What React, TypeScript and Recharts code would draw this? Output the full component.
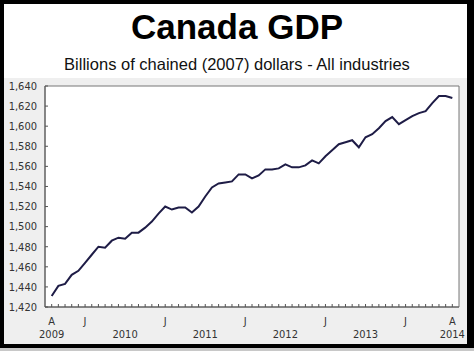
import React from 'react';
import { LineChart, Line, XAxis, YAxis, ReferenceArea } from 'recharts';

// Canada GDP, billions of chained (2007) dollars, monthly Aug 2009 – Aug 2014
const gdp = [
  1431, 1441, 1443, 1452, 1456, 1464, 1472, 1480, 1479, 1486, 1489, 1488,
  1494, 1494, 1499, 1505, 1513, 1520, 1517, 1519, 1519, 1514, 1520, 1530,
  1539, 1543, 1544, 1545, 1552, 1552, 1548, 1551, 1557, 1557, 1558, 1562,
  1559, 1559, 1561, 1566, 1563, 1570, 1576, 1582, 1584, 1586, 1579, 1589,
  1592, 1598, 1605, 1609, 1602, 1606, 1610, 1613, 1615, 1623, 1630, 1630,
  1628,
];
const startYear = 2009;
const startMonth = 7; // August (0-based)
const monthLetters = ['J', 'F', 'M', 'A', 'M', 'J', 'J', 'A', 'S', 'O', 'N', 'D'];
const yTicks = [1420, 1440, 1460, 1480, 1500, 1520, 1540, 1560, 1580, 1600, 1620, 1640];

const data = gdp.map((v, i) => ({ i, v }));
const last = gdp.length - 1;
const xTicks = data.map((d) => d.i);

function monthOf(i: number) {
  return (startMonth + i) % 12;
}
function yearOf(i: number) {
  return startYear + Math.floor((startMonth + i) / 12);
}

const tickFont = 'Tahoma, "DejaVu Sans Condensed", "Liberation Sans", sans-serif';

function XTick(props: any) {
  const { x, y, payload } = props;
  const i = payload.value as number;
  const m = monthOf(i);
  const yr = yearOf(i);
  const showLetter = i === 0 || i === last || m === 0;
  // full years get their label mid-year, partial years under the end ticks
  const fullYear = yr > startYear && yearOf(last) > yr;
  const showYear = i === 0 || i === last || (m === 6 && fullYear);
  return (
    <g>
      <line x1={x} x2={x} y1={y} y2={y - 3} stroke="#555" />
      {showLetter && (
        <text x={x} y={y + 18} textAnchor="middle" fontSize={11} fill="#333" fontFamily={tickFont}>
          {monthLetters[m]}
        </text>
      )}
      {showYear && (
        <text x={x} y={y + 31} textAnchor="middle" fontSize={11} fill="#333" fontFamily={tickFont}>
          {yr}
        </text>
      )}
    </g>
  );
}

function YTick(props: any) {
  const { x, y, payload } = props;
  return (
    <g>
      <line x1={x} x2={x + 3} y1={y} y2={y} stroke="#555" />
      <text x={x - 8} y={y} dy="0.35em" textAnchor="end" fontSize={11} fill="#333" fontFamily={tickFont}>
        {Number(payload.value).toLocaleString('en-US')}
      </text>
    </g>
  );
}

export default function App() {
  return (
    <div style={{ position: 'absolute', left: 0, top: 0, width: 474, height: 351, background: '#c8c8c8' }}>
      <div style={{ position: 'absolute', left: 0, top: 0, width: 474, height: 348, background: '#000' }} />
      <div style={{ position: 'absolute', left: 4, top: 4, width: 463, height: 340, background: '#fff' }} />
      <div style={{ position: 'absolute', left: 4, top: 78, width: 463, height: 266, background: '#efefef' }} />
      <div
        style={{
          position: 'absolute', left: 0, width: 474, top: 9, textAlign: 'center',
          fontFamily: 'Arial, "Liberation Sans", sans-serif', fontWeight: 'bold', fontSize: 35, lineHeight: '35px', color: '#000',
        }}
      >
        Canada GDP
      </div>
      <div
        style={{
          position: 'absolute', left: 0, width: 474, top: 56, textAlign: 'center',
          fontFamily: 'Arial, "Liberation Sans", sans-serif', fontSize: 16.5, lineHeight: '16.5px', color: '#111',
        }}
      >
        Billions of chained (2007) dollars - All industries
      </div>
      <div style={{ position: 'absolute', left: 0, top: 0 }}>
        <LineChart width={474} height={351} data={data} margin={{ top: 86, right: 15, bottom: 14, left: 0 }}>
          <XAxis
            dataKey="i"
            type="number"
            domain={[-1, 61]}
            ticks={xTicks}
            interval={0}
            height={30}
            tickSize={0}
            tickMargin={0}
            tickLine={false}
            axisLine={{ stroke: '#555' }}
            tick={(p: any) => <XTick {...p} />}
          />
          <YAxis
            type="number"
            domain={[1420, 1640]}
            ticks={yTicks}
            interval={0}
            width={45}
            tickSize={0}
            tickMargin={0}
            tickLine={false}
            axisLine={{ stroke: '#555' }}
            tick={(p: any) => <YTick {...p} />}
          />
          <ReferenceArea x1={-1} x2={61} y1={1420} y2={1640} fill="#fff" fillOpacity={1} stroke="#777" />
          <Line
            dataKey="v"
            type="linear"
            stroke="#1e1c46"
            strokeWidth={2}
            dot={false}
            isAnimationActive={false}
          />
        </LineChart>
      </div>
    </div>
  );
}
